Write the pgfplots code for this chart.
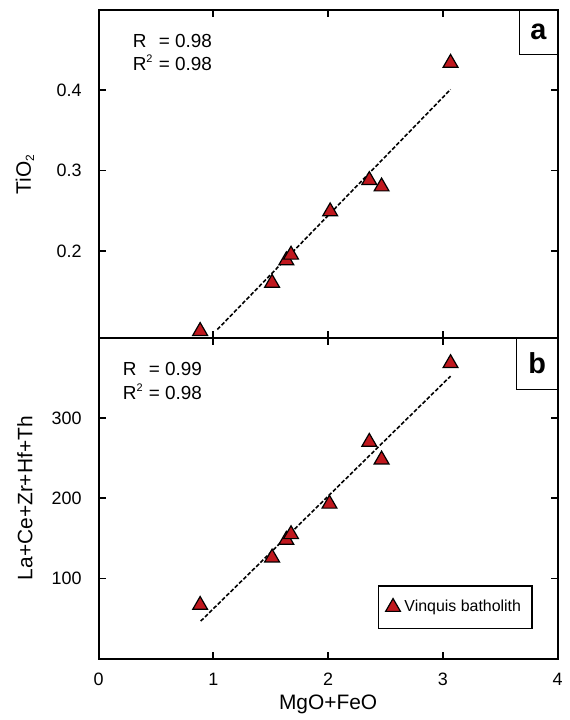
\documentclass[border=0pt]{standalone}
\usepackage{pgfplots}
\pgfplotsset{compat=1.18}
\usepackage{fontspec}
\setmainfont{Liberation Sans}
\definecolor{mred}{RGB}{192,24,30}
\newcommand{\sups}{\textsuperscript{\fontsize{5.5}{6}\selectfont 2}}
\pgfplotstableread{
x y
0.885 0.100
1.512 0.160
1.636 0.188
1.677 0.195
2.018 0.249
2.359 0.288
2.466 0.280
3.067 0.434
}\dataA
\pgfplotstableread{
x y
0.885 67
1.512 126
1.636 148
1.677 155
2.012 193
2.359 270
2.466 248
3.067 368
}\dataB
\begin{document}
\begin{tikzpicture}
\path (0pt,0pt) rectangle (283pt,360pt);
\pgfplotsset{
  common/.style={
    scale only axis, width=230.5pt,
    xmin=0, xmax=4,
    clip=false,
    axis line style={line width=1pt},
    every tick/.style={black, line width=0.9pt},
    major tick length=3.5pt,
    /pgf/number format/assume math mode=true,
    tick label style={font=\fontsize{9}{10.5}\selectfont},
    yticklabel style={xshift=-5pt},
    xticklabel style={yshift=-3.5pt},
    label style={font=\fontsize{10.5}{12}\selectfont},
    y label style={at={(axis description cs:-0.1605,0.5)}, anchor=center},
  },
  pts/.style={only marks, mark=triangle*, mark size=4.3pt,
    mark options={fill=mred, draw=black, line width=0.6pt}},
  fit/.style={black, line width=0.8pt, dash pattern=on 2pt off 1pt},
}
% panel a
\begin{axis}[common,
  at={(49.5pt,190.5pt)}, anchor=south west, height=164.5pt,
  ymin=0.092, ymax=0.5,
  ytick={0.2,0.3,0.4}, yticklabels={0.2,0.3,0.4},
  xtick={1,2,3}, xticklabels={},
  ylabel={TiO\textsubscript{\fontsize{6}{6}\selectfont 2}},
]
\addplot[fit] coordinates {(1.035,0.102) (3.067,0.401)};
\addplot[pts] table[x=x,y=y] {\dataA};
\node[anchor=north west, align=left, inner sep=0pt, font=\fontsize{9.5}{11.7}\selectfont]
  at ([xshift=17pt,yshift=-10.8pt]rel axis cs:0,1)
  {R\phantom{\sups} = 0.98\\R\sups{} = 0.98};
\draw[line width=0.7pt] (rel axis cs:1,1) rectangle ([xshift=-19.2pt,yshift=-22.5pt]rel axis cs:1,1);
\node[font=\fontsize{14.5}{16}\selectfont\bfseries] at ([xshift=-9.6pt,yshift=-11.25pt]rel axis cs:1,1) {a};
\end{axis}
% panel b
\begin{axis}[common,
  at={(49.5pt,29.15pt)}, anchor=south west, height=161.35pt,
  ymin=0, ymax=400,
  ytick={100,200,300},
  xtick={0,1,2,3,4},
  xlabel={MgO+FeO},
  x label style={at={(axis description cs:0.5,0)}, anchor=center, yshift=-22.6pt},
  ylabel={La+Ce+Zr+Hf+Th},
  legend style={at={(rel axis cs:1,0)}, anchor=south east, xshift=-12.5pt, yshift=15pt,
    draw=black, line width=0.7pt, font=\fontsize{8}{9.5}\selectfont,
    inner xsep=3.5pt, inner ysep=5pt},
  legend cell align=left,
]
\addplot[fit, forget plot] coordinates {(0.89,47) (3.067,352)};
\addplot[pts] table[x=x,y=y] {\dataB};
\addlegendentry{Vinquis batholith}
\node[anchor=north west, align=left, inner sep=0pt, font=\fontsize{9.5}{11.7}\selectfont]
  at ([xshift=12pt,yshift=-11.3pt]rel axis cs:0,1)
  {R\phantom{\sups} = 0.99\\R\sups{} = 0.98};
\draw[line width=0.7pt] (rel axis cs:1,1) rectangle ([xshift=-20.5pt,yshift=-26pt]rel axis cs:1,1);
\node[font=\fontsize{14.5}{16}\selectfont\bfseries] at ([xshift=-10.25pt,yshift=-13pt]rel axis cs:1,1) {b};
\end{axis}
\end{tikzpicture}
\end{document}
